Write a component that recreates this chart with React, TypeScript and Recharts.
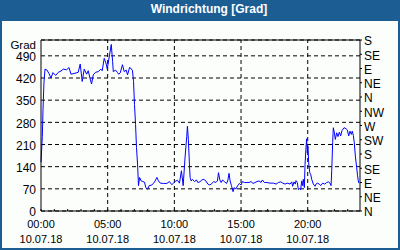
import React from 'react';
import { LineChart, Line, XAxis, YAxis, CartesianGrid, ReferenceLine } from 'recharts';

const hours: number[] = [
  0, 0.1, 0.15, 0.22, 0.3, 0.45, 0.6, 0.75, 0.9, 1.1, 1.3, 1.5, 1.67, 1.92, 2.1, 2.25, 2.54, 2.79, 2.94, 3.09,
  3.24, 3.42, 3.54, 3.67, 3.79, 3.92, 4.09, 4.29, 4.49, 4.59, 4.74, 4.87, 4.97, 5.04, 5.14, 5.27, 5.37, 5.42, 5.59, 5.74,
  5.82, 5.94, 6.11, 6.24, 6.39, 6.49, 6.64, 6.76, 6.86, 6.94, 7.01, 7.09, 7.16, 7.24, 7.31, 7.39, 7.51, 7.64, 7.76, 7.86,
  7.99, 8.11, 8.31, 8.44, 8.56, 8.69, 8.81, 8.94, 9.19, 9.44, 9.63, 9.81, 9.93, 10.11, 10.23, 10.38, 10.53, 10.66, 10.81, 10.93,
  10.98, 11.05, 11.13, 11.18, 11.26, 11.36, 11.51, 11.66, 11.76, 11.91, 12.06, 12.21, 12.36, 12.51, 12.66, 12.81, 12.96, 13.11, 13.23, 13.31,
  13.41, 13.51, 13.61, 13.75, 13.91, 14.0, 14.1, 14.18, 14.28, 14.4, 14.5, 14.6, 14.75, 14.88, 15.0, 15.1, 15.25, 15.43, 15.6, 15.75,
  15.9, 16.05, 16.2, 16.35, 16.5, 16.6, 16.75, 16.93, 17.18, 17.43, 17.63, 17.8, 17.98, 18.13, 18.3, 18.47, 18.67, 18.8, 18.87, 18.97,
  19.07, 19.12, 19.22, 19.3, 19.37, 19.47, 19.55, 19.62, 19.67, 19.75, 19.8, 19.87, 19.92, 19.97, 20.02, 20.07, 20.15, 20.22, 20.3, 20.42,
  20.55, 20.62, 20.72, 20.87, 20.97, 21.12, 21.27, 21.42, 21.55, 21.67, 21.75, 21.8, 21.87, 21.92, 22.0, 22.07, 22.17, 22.27, 22.37, 22.47,
  22.57, 22.72, 22.87, 22.97, 23.07, 23.17, 23.27, 23.34, 23.42, 23.49, 23.57, 23.67, 23.74, 23.79, 23.84,
];

const direction: number[] = [
  154, 236, 320, 404, 448, 445, 434, 420, 437, 428, 438, 442, 448, 446, 453, 432, 435, 438, 464, 409,
  448, 432, 443, 420, 401, 430, 438, 440, 448, 443, 482, 467, 448, 467, 493, 526, 472, 440, 445, 437,
  432, 436, 462, 440, 445, 430, 453, 450, 443, 409, 336, 273, 201, 148, 80, 106, 95, 93, 91, 74,
  69, 80, 82, 88, 95, 106, 95, 88, 87, 87, 93, 83, 88, 95, 97, 88, 127, 80, 174, 236,
  268, 226, 148, 106, 95, 100, 93, 98, 90, 92, 98, 100, 95, 85, 82, 87, 93, 90, 95, 121,
  98, 90, 98, 93, 87, 95, 119, 95, 80, 61, 74, 69, 80, 87, 82, 93, 90, 90, 90, 93,
  87, 90, 93, 95, 90, 98, 90, 90, 88, 88, 85, 90, 92, 88, 85, 88, 85, 92, 78, 92,
  85, 96, 90, 67, 71, 67, 95, 80, 100, 74, 148, 200, 228, 184, 203, 153, 121, 116, 100, 85,
  78, 85, 88, 85, 80, 88, 85, 90, 92, 88, 80, 127, 216, 263, 247, 226, 247, 235, 249, 237,
  254, 263, 260, 256, 237, 252, 242, 252, 239, 216, 174, 137, 111, 95, 88,
];

const leftTicks: number[] = [0, 70, 140, 210, 280, 350, 420, 490];
const rightTicks: number[] = [0, 45, 90, 135, 180, 225, 270, 315, 360, 405, 450, 495, 540];
const compassLabels: string[] = ['N', 'NE', 'E', 'SE', 'S', 'SW', 'W', 'NW', 'N', 'NE', 'E', 'SE', 'S'];
const hourTicks: number[] = Array.from({ length: 24 }, (_, i) => i);
const majorHours: number[] = [0, 5, 10, 15, 20];
const timeLabels: string[] = ['00:00', '05:00', '10:00', '15:00', '20:00'];
const dateLabel = '10.07.18';
const title = 'Windrichtung [Grad]';
const unitLabel = 'Grad';

const data = hours.map((t, i) => ({ t, v: direction[i] }));

const FONT = '"Liberation Sans", Arial, sans-serif';

const XTick = (props: any) => {
  const { x, y, payload } = props;
  const idx = majorHours.indexOf(payload.value);
  return (
    <g>
      <line x1={x} x2={x} y1={y} y2={y - 2} stroke="#000" strokeWidth={1} />
      {idx >= 0 && (
        <>
          <text x={x} y={y + 17} textAnchor="middle" fontSize={11} fontFamily={FONT} fill="#000">
            {timeLabels[idx]}
          </text>
          <text x={x} y={y + 32} textAnchor="middle" fontSize={11} fontFamily={FONT} fill="#000">
            {dateLabel}
          </text>
        </>
      )}
    </g>
  );
};

export default function App() {
  return (
    <div style={{ position: 'absolute', left: 0, top: 0, width: 400, height: 250, background: '#1c5e94', overflow: 'hidden' }}>
      <div
        style={{
          position: 'absolute', left: 0, top: 0, width: 400, height: 21, lineHeight: '19px', textAlign: 'center',
          color: '#fff', fontFamily: FONT, fontWeight: 'bold', fontSize: 12, paddingLeft: 18, boxSizing: 'border-box',
        }}
      >
        {title}
      </div>
      <div style={{ position: 'absolute', left: 2, top: 21, width: 396, height: 227, background: '#fcfefc' }} />
      <div style={{ position: 'absolute', left: 0, top: 0 }}>
        <LineChart width={400} height={250} data={data} margin={{ top: 40, right: 0, bottom: 0, left: 0 }}>
          <CartesianGrid yAxisId="left" vertical={false} stroke="#000" strokeDasharray="4 3" />
          <XAxis
            dataKey="t"
            type="number"
            domain={[0, 23.92]}
            ticks={hourTicks}
            interval={0}
            height={39}
            tickLine={false}
            tickSize={0}
            tickMargin={0}
            axisLine={{ stroke: '#000' }}
            tick={<XTick />}
          />
          <YAxis
            yAxisId="left"
            domain={[0, 540]}
            ticks={leftTicks}
            interval={0}
            width={41}
            tickLine={false}
            tickSize={5}
            tickMargin={0}
            axisLine={{ stroke: '#000' }}
            tick={{ fill: '#000', fontSize: 12, fontFamily: FONT, dy: 1 }}
            label={(p: any) => {
              const vb = p.viewBox || {};
              return (
                <text x={vb.x + vb.width - 5} y={vb.y + 9} textAnchor="end" fontSize={11.5} fontFamily={FONT} fill="#000">
                  {unitLabel}
                </text>
              );
            }}
          />
          <YAxis
            yAxisId="right"
            orientation="right"
            domain={[0, 540]}
            allowDataOverflow
            ticks={rightTicks}
            interval={0}
            width={40}
            tickSize={2}
            tickMargin={2}
            tickLine={{ stroke: '#000' }}
            axisLine={{ stroke: '#000' }}
            tick={{ fill: '#000', fontSize: 12, fontFamily: FONT, dy: 1 }}
            tickFormatter={(v: number) => compassLabels[rightTicks.indexOf(v)] ?? ''}
          />
          {[5, 10, 15, 20].map((h) => (
            <ReferenceLine key={h} x={h} yAxisId="left" stroke="#000" strokeDasharray="4 3" />
          ))}
          <ReferenceLine y={540} yAxisId="left" stroke="#000" />
          <Line
            yAxisId="right"
            type="linear"
            dataKey="v"
            stroke="none"
            dot={false}
            activeDot={false}
            isAnimationActive={false}
          />
          <Line
            yAxisId="left"
            type="linear"
            dataKey="v"
            stroke="#0000ff"
            strokeWidth={1}
            dot={false}
            isAnimationActive={false}
          />
        </LineChart>
      </div>
    </div>
  );
}
